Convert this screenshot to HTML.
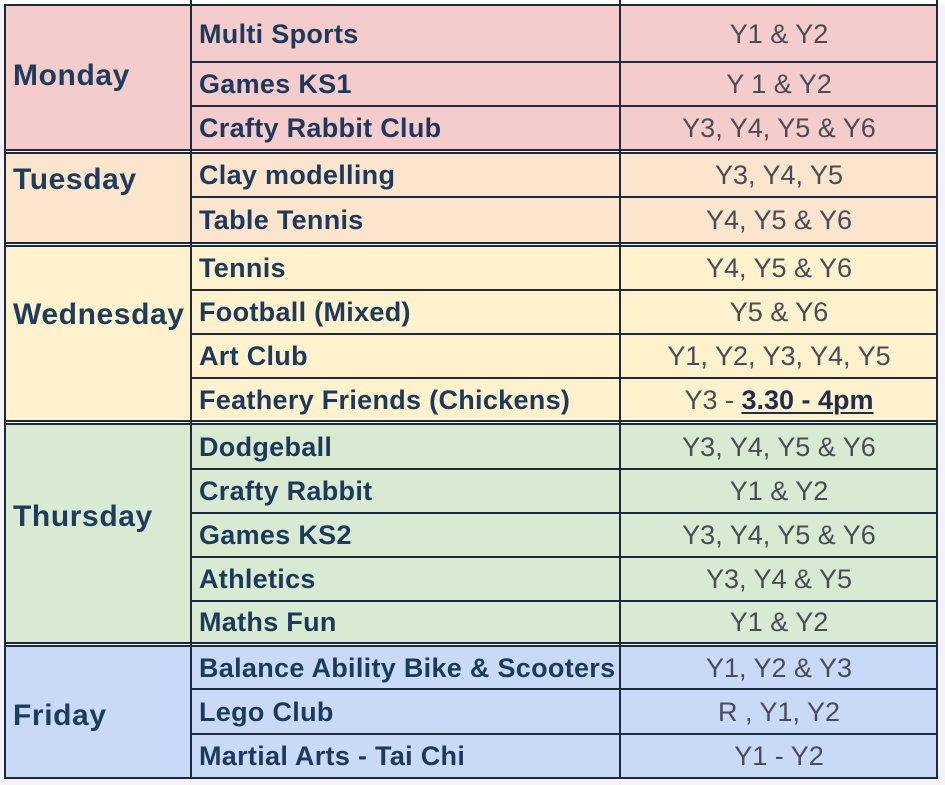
<!DOCTYPE html>
<html>
<head>
<meta charset="utf-8">
<style>
  html,body{margin:0;padding:0;}
  body{width:945px;height:785px;position:relative;overflow:hidden;background:#f6f2f9;
       font-family:"Liberation Sans",Arial,sans-serif;}
  .abs{position:absolute;}
  .bg{position:absolute;left:5px;width:932px;}
  .h{position:absolute;left:5px;width:933px;height:2px;background:#1c2b3c;}
  .gap{position:absolute;left:5px;width:933px;height:1px;background:#f4f6f8;}
  .v{position:absolute;width:2px;background:#1c2b3c;}
  .day{position:absolute;left:13px;font-weight:bold;font-size:30px;line-height:30px;letter-spacing:0.6px;color:#1d3d5c;white-space:nowrap;}
  .act{position:absolute;left:199px;width:418px;display:flex;align-items:center;font-weight:bold;font-size:27px;letter-spacing:0.3px;color:#1d3a5c;white-space:nowrap;}
  .yr{position:absolute;left:621px;width:316px;display:flex;align-items:center;justify-content:center;font-size:27px;color:#4a4c56;white-space:nowrap;}
  .yr b{color:#1d2f4c;text-decoration:underline;text-decoration-thickness:2px;text-underline-offset:3px;}
</style>
</head>
<body>
<!-- top strip -->
<div class="abs" style="left:0;top:0;width:945px;height:5px;background:#ffffff;"></div>

<!-- group backgrounds -->
<div class="bg" style="top:5px;height:146px;background:#f4cccc;"></div>
<div class="bg" style="top:153px;height:91px;background:#fce5cd;"></div>
<div class="bg" style="top:246px;height:176px;background:#fff2cc;"></div>
<div class="bg" style="top:424px;height:220px;background:#d9ead3;"></div>
<div class="bg" style="top:647px;height:131px;background:#c9daf8;"></div>

<!-- horizontal lines -->
<div class="h" style="top:4px;"></div>
<div class="h" style="left:191px;width:747px;top:61px;"></div>
<div class="h" style="left:191px;width:747px;top:105px;"></div>
<div class="h" style="top:149px;"></div><div class="gap" style="top:151px;"></div><div class="h" style="top:152px;"></div>
<div class="h" style="left:191px;width:747px;top:196px;"></div>
<div class="h" style="top:242px;"></div><div class="gap" style="top:244px;"></div><div class="h" style="top:245px;"></div>
<div class="h" style="left:191px;width:747px;top:289px;"></div>
<div class="h" style="left:191px;width:747px;top:333px;"></div>
<div class="h" style="left:191px;width:747px;top:377px;"></div>
<div class="h" style="top:420px;"></div><div class="gap" style="top:422px;"></div><div class="h" style="top:423px;"></div>
<div class="h" style="left:191px;width:747px;top:468px;"></div>
<div class="h" style="left:191px;width:747px;top:512px;"></div>
<div class="h" style="left:191px;width:747px;top:556px;"></div>
<div class="h" style="left:191px;width:747px;top:600px;"></div>
<div class="h" style="top:642px;"></div><div class="gap" style="top:644px;"></div><div class="h" style="top:645px;"></div>
<div class="h" style="left:191px;width:747px;top:688px;"></div>
<div class="h" style="left:191px;width:747px;top:733px;"></div>
<div class="h" style="top:777px;"></div>

<!-- vertical lines -->
<div class="v" style="left:4px;top:4px;height:775px;"></div>
<div class="v" style="left:190px;top:0;height:779px;"></div>
<div class="v" style="left:619px;top:0;height:779px;"></div>
<div class="v" style="left:936px;top:0;height:779px;"></div>

<!-- day labels -->
<div class="day" style="top:61px;">Monday</div>
<div class="day" style="top:165px;">Tuesday</div>
<div class="day" style="top:300px;">Wednesday</div>
<div class="day" style="top:502px;">Thursday</div>
<div class="day" style="top:701px;">Friday</div>

<!-- activities -->
<div class="act" style="top:6px;height:57px;">Multi Sports</div>
<div class="act" style="top:63px;height:43px;">Games KS1</div>
<div class="act" style="top:107px;height:43px;">Crafty Rabbit Club</div>
<div class="act" style="top:154px;height:43px;">Clay modelling</div>
<div class="act" style="top:198px;height:45px;">Table Tennis</div>
<div class="act" style="top:247px;height:43px;">Tennis</div>
<div class="act" style="top:291px;height:43px;">Football (Mixed)</div>
<div class="act" style="top:335px;height:43px;">Art Club</div>
<div class="act" style="top:379px;height:42px;">Feathery Friends (Chickens)</div>
<div class="act" style="top:425px;height:44px;">Dodgeball</div>
<div class="act" style="top:470px;height:43px;">Crafty Rabbit</div>
<div class="act" style="top:514px;height:43px;">Games KS2</div>
<div class="act" style="top:558px;height:43px;">Athletics</div>
<div class="act" style="top:602px;height:41px;">Maths Fun</div>
<div class="act" style="top:647px;height:42px;">Balance Ability Bike &amp; Scooters</div>
<div class="act" style="top:690px;height:44px;">Lego Club</div>
<div class="act" style="top:735px;height:43px;">Martial Arts - Tai Chi</div>

<!-- year groups -->
<div class="yr" style="top:6px;height:57px;">Y1 &amp; Y2</div>
<div class="yr" style="top:63px;height:43px;">Y 1 &amp; Y2</div>
<div class="yr" style="top:107px;height:43px;">Y3, Y4, Y5 &amp; Y6</div>
<div class="yr" style="top:154px;height:43px;">Y3, Y4, Y5</div>
<div class="yr" style="top:198px;height:45px;">Y4, Y5 &amp; Y6</div>
<div class="yr" style="top:247px;height:43px;">Y4, Y5 &amp; Y6</div>
<div class="yr" style="top:291px;height:43px;">Y5 &amp; Y6</div>
<div class="yr" style="top:335px;height:43px;">Y1, Y2, Y3, Y4, Y5</div>
<div class="yr" style="top:379px;height:42px;">Y3 -&nbsp;<b>3.30 - 4pm</b></div>
<div class="yr" style="top:425px;height:44px;">Y3, Y4, Y5 &amp; Y6</div>
<div class="yr" style="top:470px;height:43px;">Y1 &amp; Y2</div>
<div class="yr" style="top:514px;height:43px;">Y3, Y4, Y5 &amp; Y6</div>
<div class="yr" style="top:558px;height:43px;">Y3, Y4 &amp; Y5</div>
<div class="yr" style="top:602px;height:41px;">Y1 &amp; Y2</div>
<div class="yr" style="top:647px;height:42px;">Y1, Y2 &amp; Y3</div>
<div class="yr" style="top:690px;height:44px;">R , Y1, Y2</div>
<div class="yr" style="top:735px;height:43px;">Y1 - Y2</div>
</body>
</html>
